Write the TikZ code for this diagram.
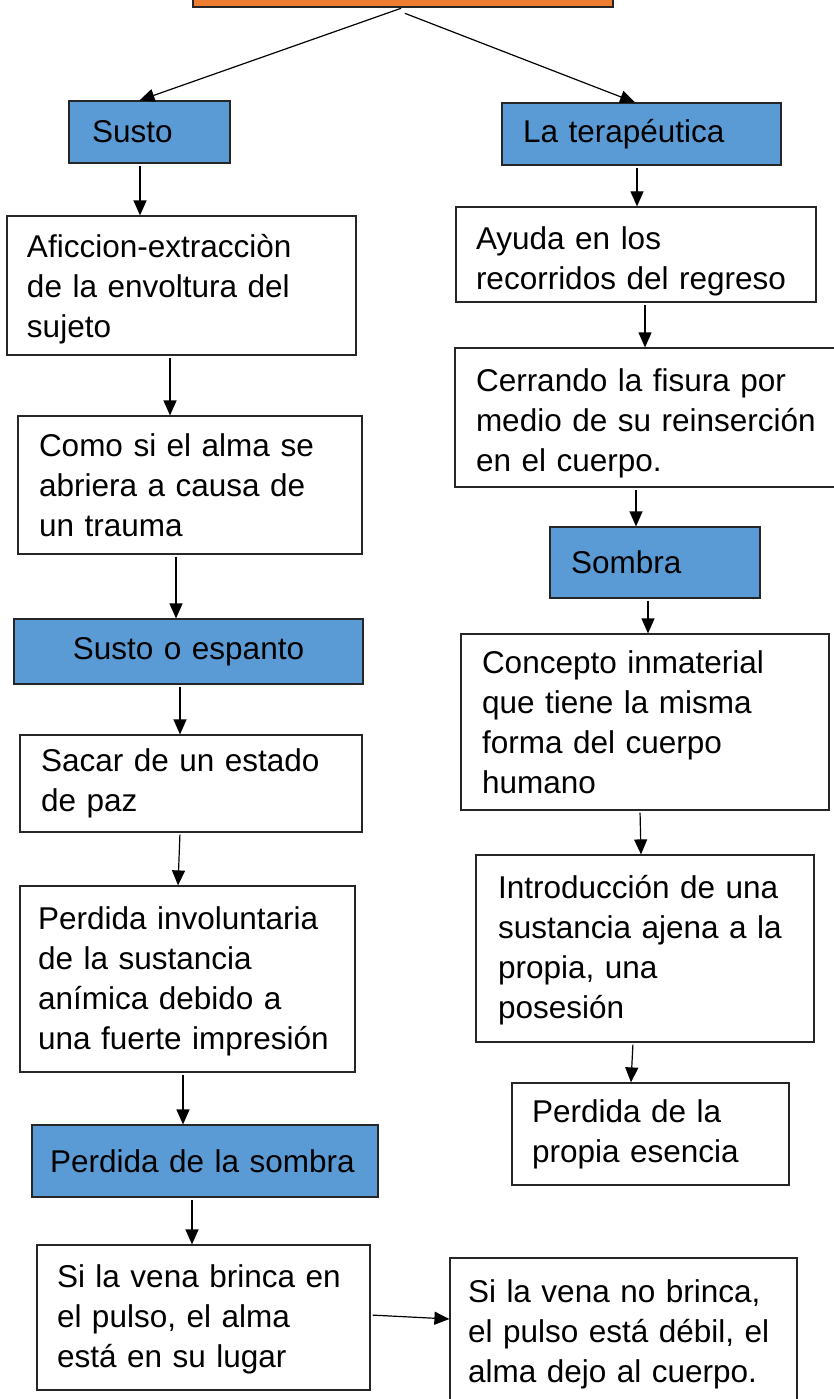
\documentclass[tikz,border=0pt]{standalone}
\usepackage{fontspec}
\setmainfont{Liberation Sans}
\usetikzlibrary{arrows.meta}
\newcommand{\bajar}[1]{\rule{0pt}{#1pt}}

\begin{document}
\begin{tikzpicture}[x=1pt,y=-1pt,
    caja/.style={draw=black!85, line width=1.2pt, fill=white, align=left,
        font=\fontsize{31.5}{40}\selectfont, inner ysep=0pt},
    azul/.style={caja, fill=azulcaja},
    flecha/.style={-{Triangle[length=15pt,width=13pt]}, line width=1.2pt, shorten <=2pt}]
\definecolor{azulcaja}{HTML}{5B9BD5}
\definecolor{naranja}{HTML}{ED7D31}
\useasboundingbox (0,0) rectangle (834,1399);
% titulo (cortado arriba)
\node[caja, fill=naranja, minimum width=420pt, minimum height=67pt, inner sep=0pt] (tema) at (403,-26.5) {};
% columna izquierda
\node[azul, inner xsep=23pt, text width=115pt, minimum height=62pt] (susto) at (149.5,132) {Susto};
\node[caja, inner xsep=20pt, text width=309pt, minimum height=139pt] (aficcion) at (181.5,285.5)
    {\bajar{31}Aficcion-extracciòn\\de la envoltura del\\sujeto};
\node[caja, inner xsep=21pt, text width=302pt, minimum height=138pt] (alma) at (190,485)
    {Como si el alma se\\abriera a causa de\\un trauma};
\node[azul, align=center, inner xsep=20pt, text width=309pt, minimum height=65pt] (espanto) at (188.5,651.5)
    {Susto o espanto};
\node[caja, inner xsep=21pt, text width=300pt, minimum height=97pt] (sacar) at (191,783.5)
    {Sacar de un estado\\de paz};
\node[caja, inner xsep=18pt, text width=299pt, minimum height=186pt] (involuntaria) at (187.5,979)
    {\bajar{27}Perdida involuntaria\\de la sustancia\\anímica debido a\\una fuerte impresión};
\node[azul, inner xsep=18pt, text width=310pt, minimum height=72pt] (sombraperdida) at (205,1161)
    {Perdida de la sombra};
\node[caja, inner xsep=20pt, text width=293pt, minimum height=145pt] (brinca) at (203.5,1317.5)
    {\bajar{27}Si la vena brinca en\\el pulso, el alma\\está en su lugar};
\node[caja, inner xsep=18pt, text width=311pt, minimum height=152pt] (nobrinca) at (623.5,1334)
    {Si la vena no brinca,\\el pulso está débil, el\\alma dejo al cuerpo.};
% columna derecha
\node[azul, inner xsep=21pt, text width=237pt, minimum height=62pt] (terapeutica) at (641.5,134)
    {La terapéutica};
\node[caja, inner xsep=20pt, text width=320pt, minimum height=95pt] (ayuda) at (636,254.5)
    {\bajar{37}Ayuda en los\\recorridos del regreso};
\node[caja, inner xsep=21pt, text width=353pt, minimum height=139pt] (fisura) at (652.5,417.5)
    {\bajar{35}Cerrando la fisura por\\medio de su reinserción\\en el cuerpo.};
\node[azul, inner xsep=21pt, text width=168pt, minimum height=71pt] (sombra) at (655,562.5)
    {Sombra};
\node[caja, inner xsep=21pt, text width=326pt, minimum height=176pt] (concepto) at (645,722)
    {Concepto inmaterial\\que tiene la misma\\forma del cuerpo\\humano};
\node[caja, inner xsep=22pt, text width=294pt, minimum height=187pt] (introduccion) at (645,948.5)
    {\bajar{27}Introducción de una\\sustancia ajena a la\\propia, una\\posesión};
\node[caja, inner xsep=20pt, text width=237pt, minimum height=102pt] (esencia) at (650.5,1134)
    {Perdida de la\\propia esencia};
% conectores
\draw[flecha] (tema.south) -- ([xshift=-10pt]susto.north);
\draw[flecha] ([yshift=-5pt]tema.south) -- ([xshift=-6.5pt]terapeutica.north);
\draw[flecha] ([xshift=-9.5pt]susto.south) -- ([xshift=-41.5pt]aficcion.north);
\draw[flecha] ([xshift=-11.5pt]aficcion.south) -- ([xshift=-20pt]alma.north);
\draw[flecha] ([xshift=-14pt]alma.south) -- ([xshift=-12.5pt]espanto.north);
\draw[flecha] ([xshift=-8.5pt]espanto.south) -- ([xshift=-11pt]sacar.north);
\draw[flecha] ([xshift=-11pt]sacar.south) -- ([xshift=-9.5pt]involuntaria.north);
\draw[flecha] ([xshift=-4.5pt]involuntaria.south) -- ([xshift=-22pt]sombraperdida.north);
\draw[flecha] ([xshift=-13pt]sombraperdida.south) -- ([xshift=-11.5pt]brinca.north);
\draw[flecha] ([yshift=2.5pt]brinca.east) -- ([yshift=15pt]nobrinca.west);
\draw[flecha] ([xshift=-4.5pt]terapeutica.south) -- ([xshift=1pt]ayuda.north);
\draw[flecha] ([xshift=9pt]ayuda.south) -- ([xshift=-7.5pt]fisura.north);
\draw[flecha] ([xshift=-16.5pt]fisura.south) -- ([xshift=-19pt]sombra.north);
\draw[flecha] ([xshift=-7pt]sombra.south) -- ([xshift=3pt]concepto.north);
\draw[flecha] ([xshift=-5pt]concepto.south) -- ([xshift=-4pt]introduccion.north);
\draw[flecha] ([xshift=-12pt]introduccion.south) -- ([xshift=-19.5pt]esencia.north);
\end{tikzpicture}
\end{document}
